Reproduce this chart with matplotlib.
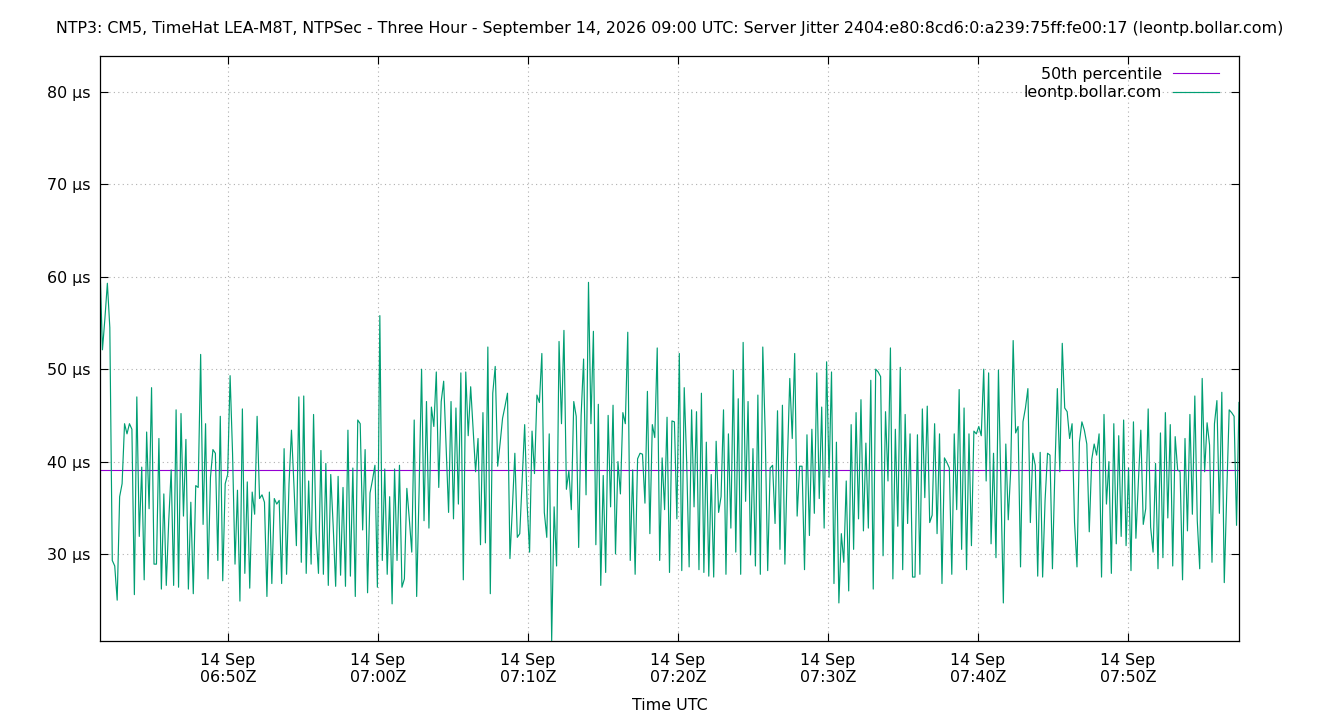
import matplotlib
matplotlib.use("Agg")
import matplotlib.pyplot as plt
import matplotlib.dates as mdates
from matplotlib.ticker import FuncFormatter
import pandas as pd

# server jitter samples (microseconds), oldest first
jitter_us = [
    61.0, 52.1, 55.5, 59.3, 54.5, 29.3, 28.7, 25.0, 36.2, 37.6, 44.1, 43.0, 44.1, 43.5, 25.6, 47.0,
    31.9, 39.4, 27.2, 43.2, 34.9, 48.0, 28.9, 28.9, 42.5, 26.2, 36.5, 26.6, 33.6, 39.1, 26.6, 45.6,
    26.4, 45.2, 34.1, 42.4, 26.2, 35.6, 25.7, 37.4, 37.2, 51.6, 33.2, 44.1, 27.3, 38.3, 41.3, 40.9,
    29.3, 44.9, 27.1, 37.6, 38.6, 49.3, 40.9, 28.9, 36.9, 24.9,
    45.7, 27.9, 37.8, 26.3, 36.7, 34.3, 44.9, 36.0, 36.4, 35.6, 25.4, 36.7, 26.8, 36.0, 35.4, 35.8,
    26.8, 41.4, 27.8, 37.6, 43.4, 37.5, 30.9, 47.0, 29.1, 47.1, 27.9, 37.9, 28.9, 45.1, 32.4, 27.9,
    41.2, 27.8, 39.8, 26.6, 38.6, 33.0, 26.5, 38.4, 27.7, 37.2, 26.5, 43.4, 27.6, 39.3, 25.4, 44.5,
    44.1, 32.6, 41.3, 25.8, 36.6, 38.0, 39.6, 26.4, 55.8, 29.3, 39.2, 27.8,
    36.2, 24.6, 39.2, 29.3, 39.6, 26.4, 27.3, 37.1, 33.8, 30.2, 44.5, 25.4, 37.0, 50.0, 33.6, 46.5,
    32.8, 45.9, 43.8, 49.7, 37.2, 46.5, 48.7, 41.5, 34.5, 46.5, 33.8, 45.8, 35.4, 49.6, 27.2, 49.7,
    42.8, 48.1, 43.5, 38.9, 42.5, 31.0, 45.3, 31.2, 52.4, 25.7, 47.4, 50.3, 39.5, 42.0, 44.7, 46.0,
    47.4, 29.5, 35.0, 40.9, 31.8, 32.2, 38.0, 44.0, 35.4, 30.2, 43.3, 38.7,
    47.2, 46.4, 51.7, 34.5, 31.8, 43.0, 20.6, 35.1, 28.7, 53.0, 44.1, 54.2, 37.0, 39.0, 34.8, 46.5,
    44.9, 30.7, 45.0, 51.1, 36.4, 59.4, 44.1, 54.1, 31.0, 46.2, 26.6, 38.5, 28.0, 45.0, 35.1, 46.1,
    30.0, 40.0, 36.5, 45.3, 44.1, 54.0, 29.3, 39.1, 27.8, 40.3, 40.9, 40.8, 35.5, 47.6, 32.2, 44.0,
    42.6, 52.3, 29.3, 40.4, 34.8, 44.8, 28.0, 44.4, 44.3, 33.8, 51.7, 28.2, 48.0, 39.9, 28.6,
    45.6, 35.1, 45.4, 28.3, 47.4, 28.0, 42.1, 27.6, 38.6, 27.5, 42.2, 34.5, 36.2, 45.6, 27.8, 43.0,
    32.8, 49.9, 30.2, 46.8, 27.8, 52.9, 35.7, 46.5, 29.9, 41.4, 28.7, 47.2, 27.8, 52.4, 43.0, 28.2,
    39.3, 39.6, 33.3, 45.5, 30.5, 46.1, 28.9, 39.8, 49.0, 42.5, 51.7, 34.1, 39.5, 39.5, 28.3, 42.9,
    32.0, 43.5, 34.4, 49.6, 36.0, 45.9, 32.8, 50.8, 38.3, 49.7, 26.8,
    42.1, 24.7, 32.2, 29.1, 37.9, 26.0, 44.0, 30.5, 45.3, 33.8, 46.7, 32.5, 42.0, 32.8, 48.8, 26.2,
    50.0, 49.7, 49.2, 29.8, 45.4, 37.9, 52.3, 27.3, 43.5, 33.0, 50.2, 28.3, 45.1, 33.3, 43.0, 27.5,
    27.5, 42.9, 27.8, 45.7, 36.1, 46.0, 33.4, 34.2, 44.1, 32.2, 43.0, 26.8, 40.4, 39.9, 39.3, 27.8,
    43.0, 34.8, 47.8, 30.5, 45.8, 28.3, 43.0, 30.9, 43.3,
    43.0, 43.8, 42.8, 50.0, 37.9, 49.6, 31.1, 40.9, 29.6, 49.9, 37.2, 24.7, 41.9, 33.7, 39.1,
    53.1, 43.1, 43.8, 28.6, 44.3, 45.8, 47.9, 33.4, 40.9, 39.6, 27.6, 41.0, 27.5, 35.8, 40.9, 40.7,
    28.4, 39.1, 47.9, 38.9, 52.8, 45.8, 45.4, 42.5, 44.1, 33.4, 28.6, 42.1, 44.3, 43.4, 41.9, 32.4,
    40.2, 41.9, 40.7, 43.0, 27.5, 45.1, 35.4, 40.0, 27.9, 44.1, 31.1,
    42.8, 31.9, 44.5, 30.9, 39.3, 28.2, 44.3, 31.7, 37.8, 43.4, 33.2, 34.9, 45.7, 32.9, 30.2, 39.8,
    28.4, 43.1, 29.6, 45.3, 33.9, 44.0, 28.7, 42.7, 39.1, 38.9, 27.2, 42.5, 32.5, 45.1, 34.3, 47.1,
    33.6, 28.4, 49.0, 38.9, 44.2, 41.8, 29.1, 44.1, 46.6, 34.4, 47.5, 26.9, 36.5, 45.6, 45.3, 44.9,
    33.1, 46.4,
]
median_us = 39.13
first_sample = "2026-09-14 06:41:28"
last_sample = "2026-09-14 07:57:24"
tick_times = pd.date_range("2026-09-14 06:50", "2026-09-14 07:50", freq="10min")
y_ticks = [30, 40, 50, 60, 70, 80]

title = ("NTP3: CM5, TimeHat LEA-M8T, NTPSec - Three Hour - September 14, 2026 09:00 UTC: "
         "Server Jitter 2404:e80:8cd6:0:a239:75ff:fe00:17 (leontp.bollar.com)")

times = pd.date_range(first_sample, last_sample, periods=len(jitter_us))

fs = 11.4
plt.rcParams["font.family"] = "DejaVu Sans"
plt.rcParams["font.size"] = fs

fig = plt.figure(figsize=(13.4, 7.2), dpi=100)
ax = fig.add_axes([100 / 1340, 1 - 641 / 720, 1139 / 1340, 585 / 720])

ax.axhline(median_us, color="#9400d3", lw=0.8, label="50th percentile")
ax.plot(times, jitter_us, color="#009e73", lw=0.85, label="leontp.bollar.com")

ax.set_xlim(pd.Timestamp(first_sample), pd.Timestamp(last_sample))
ax.set_ylim(20.58, 83.9)
ax.set_xticks(tick_times)
ax.xaxis.set_major_formatter(mdates.DateFormatter("%d %b\n%H:%MZ"))
ax.set_yticks(y_ticks)
ax.yaxis.set_major_formatter(FuncFormatter(lambda v, p: f"{v:.0f} µs"))

ax.tick_params(direction="in", length=6, width=0.8, top=True, right=True, pad=7,
               labelsize=fs)
ax.tick_params(axis="x", pad=8.5)
for s in ax.spines.values():
    s.set_linewidth(0.9)
ax.grid(True, color="#b0b0b0", linestyle=(0, (1, 3)), lw=0.8)

ax.legend(loc="upper right", bbox_to_anchor=(1219 / 1340, 1 - 67 / 720),
          bbox_transform=fig.transFigure, frameon=False, markerfirst=False,
          borderpad=0, borderaxespad=0, handlelength=2.9, handletextpad=0.7,
          labelspacing=0.22, fontsize=fs)

fig.text(0.5, 1 - 29 / 720, title, ha="center", va="center", fontsize=fs)
fig.text(669.5 / 1340, 1 - 706 / 720, "Time UTC", ha="center", va="center", fontsize=fs)

fig.savefig("out.png", dpi=100)
